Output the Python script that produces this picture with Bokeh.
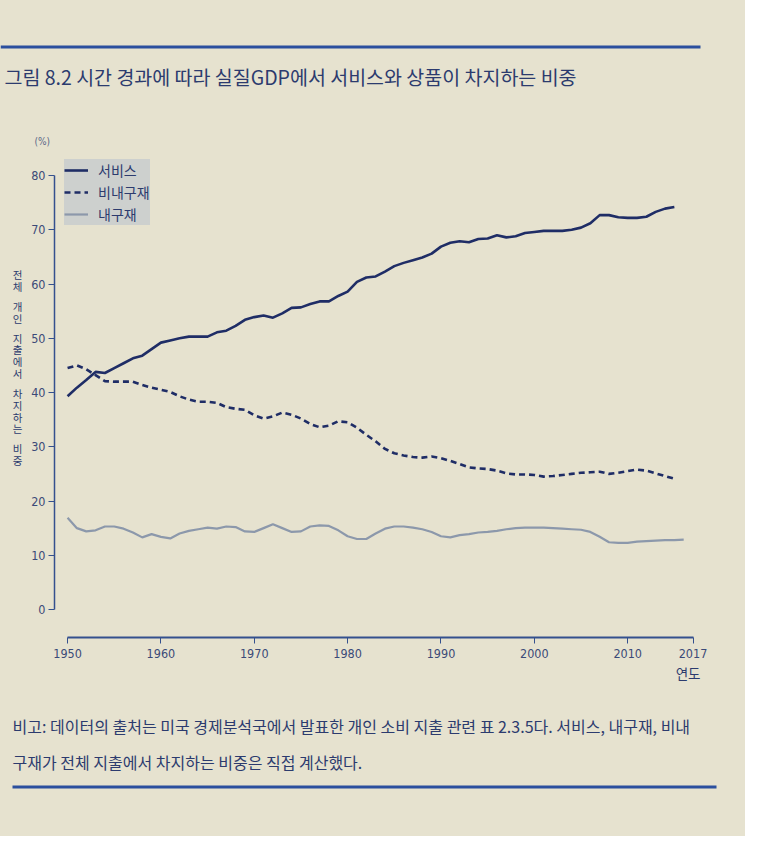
from bokeh.plotting import figure
from bokeh.layouts import column, row
from bokeh.models import FixedTicker, Label, BoxAnnotation, Legend, LegendItem, Title
from bokeh.embed import file_html
from bokeh.resources import INLINE

# 서비스 / 비내구재 / 내구재 비중 (%), 그림에서 읽은 값
years = list(range(1950, 2016))
services = [39.3, 40.9, 42.3, 43.8, 43.6, 44.5, 45.4, 46.3, 46.8, 48.0,
            49.2, 49.6, 50.0, 50.3, 50.3, 50.3, 51.1, 51.4, 52.3, 53.4,
            53.9, 54.2, 53.8, 54.6, 55.6, 55.7, 56.3, 56.8, 56.8, 57.8,
            58.6, 60.4, 61.2, 61.4, 62.3, 63.3, 63.9, 64.4, 64.9, 65.6,
            66.9, 67.6, 67.9, 67.7, 68.3, 68.4, 69.0, 68.6, 68.8, 69.4,
            69.6, 69.8, 69.8, 69.8, 70.0, 70.4, 71.2, 72.7, 72.7, 72.3,
            72.2, 72.2, 72.4, 73.3, 73.9, 74.2]
nondurables = [44.5, 45.0, 44.3, 43.2, 42.1, 42.0, 42.0, 42.0, 41.4, 40.9,
               40.5, 40.1, 39.3, 38.7, 38.3, 38.3, 38.1, 37.3, 37.0, 36.8,
               35.8, 35.2, 35.6, 36.3, 35.9, 35.2, 34.2, 33.6, 33.9, 34.7,
               34.5, 33.5, 32.2, 31.0, 29.6, 28.8, 28.4, 28.1, 28.0, 28.2,
               27.9, 27.4, 26.8, 26.2, 26.0, 25.9, 25.6, 25.1, 24.9, 24.9,
               24.8, 24.5, 24.6, 24.8, 25.0, 25.2, 25.3, 25.4, 25.0, 25.2,
               25.5, 25.8, 25.6, 25.1, 24.6, 24.1]
durables_years = list(range(1950, 2017))
durables = [16.9, 15.0, 14.4, 14.6, 15.3, 15.3, 14.9, 14.2, 13.3, 13.9,
            13.4, 13.1, 14.0, 14.5, 14.8, 15.1, 14.9, 15.3, 15.2, 14.4,
            14.3, 15.0, 15.7, 15.0, 14.3, 14.4, 15.3, 15.5, 15.4, 14.6,
            13.5, 13.0, 13.0, 14.0, 14.9, 15.3, 15.3, 15.1, 14.8, 14.3,
            13.5, 13.3, 13.7, 13.9, 14.2, 14.3, 14.5, 14.8, 15.0, 15.1,
            15.1, 15.1, 15.0, 14.9, 14.8, 14.7, 14.3, 13.4, 12.4, 12.3,
            12.3, 12.5, 12.6, 12.7, 12.8, 12.8, 12.9]

x_ticks = [1950, 1960, 1970, 1980, 1990, 2000, 2010, 2017]
y_ticks = [0, 10, 20, 30, 40, 50, 60, 70, 80]

title_text = "그림 8.2 시간 경과에 따라 실질GDP에서 서비스와 상품이 차지하는 비중"
ylab = "전체 개인 지출에서 차지하는 비중"
note1 = "비고: 데이터의 출처는 미국 경제분석국에서 발표한 개인 소비 지출 관련 표 2.3.5다. 서비스, 내구재, 비내"
note2 = "구재가 전체 지출에서 차지하는 비중은 직접 계산했다."

W = 745
BG = "#e6e2cf"
NAVY = "#1f2d66"
TXT = "#2c3b6e"
RULE = "#2b4f9e"
KR = "Noto Sans CJK KR"
NUM = "DejaVu Sans Condensed"


def blank(w, h):
    # 축 없이 텍스트만 올리는 판 (좌표는 왼쪽 위 기준 픽셀)
    f = figure(width=w, height=h, x_range=(0, w), y_range=(h, 0),
               min_border=0, output_backend="svg", toolbar_location=None)
    f.axis.visible = False
    f.grid.visible = False
    f.outline_line_color = None
    f.background_fill_color = BG
    f.border_fill_color = BG
    return f


def put(f, text, x, y, size, align="left", font=KR, color=TXT):
    f.add_layout(Label(x=x, y=y, text=text, text_font=font, text_font_size=size,
                       text_color=color, text_align=align, text_baseline="middle"))


def rule(f, x0, x1, y, w):
    f.add_layout(BoxAnnotation(left=x0, right=x1, top=y, bottom=y + w,
                               fill_color=RULE, fill_alpha=1, line_color=None))


# 위: 제목
head = blank(W, 149)
put(head, title_text, 4, 76, "19.5px")
rule(head, 0, 700, 45, 3)
put(head, "(%)", 34, 141, "10px", font=NUM, color="#5a6688")

# 본 그래프
MH = 538
p = figure(width=W - 26, height=MH, x_range=(1948.6, 2017.8), y_range=(-5.16, 84.8),
           min_border_left=28, min_border_right=45, min_border_top=0, min_border_bottom=50,
           output_backend="svg", toolbar_location=None)
p.background_fill_alpha = 0
p.border_fill_color = BG
p.outline_line_color = None
p.grid.visible = False

p.xaxis.ticker = FixedTicker(ticks=x_ticks)
p.yaxis.ticker = FixedTicker(ticks=y_ticks)
p.xaxis.bounds = (1950, 2017)
p.yaxis.bounds = (0, 80)
for ax in (p.xaxis, p.yaxis):
    ax.axis_line_color = "#34508e"
    ax.major_tick_line_color = "#34508e"
    ax.major_tick_in = 0
    ax.major_tick_out = 6
    ax.minor_tick_line_color = None
    ax.major_label_text_font = NUM
    ax.major_label_text_font_size = "12.5px"
    ax.major_label_text_color = "#3b4a78"
p.xaxis.axis_line_width = 2
p.yaxis.axis_line_width = 1.5
p.xaxis.major_label_standoff = 5
p.yaxis.major_label_standoff = 3

r1 = p.line(years, services, line_color=NAVY, line_width=2.6)
r2 = p.line(years, nondurables, line_color=NAVY, line_width=2.6, line_dash="6 4")
r3 = p.line(durables_years, durables, line_color="#8c98ab", line_width=2.2)

legend = Legend(items=[LegendItem(label="서비스", renderers=[r1]),
                       LegendItem(label="비내구재", renderers=[r2]),
                       LegendItem(label="내구재", renderers=[r3])],
                location="top_left", margin=10, padding=17, spacing=0,
                label_height=22, glyph_width=24, label_standoff=10,
                background_fill_color="#cdd0ce", background_fill_alpha=1,
                border_line_color=None, label_text_font=KR,
                label_text_font_size="14px", label_text_color=TXT)
p.add_layout(legend)

p.add_layout(Title(text="연도", align="right", text_font=KR, text_font_size="13.5px",
                   text_font_style="normal", text_color=TXT, standoff=0), "below")

# 왼쪽: 세로로 쌓은 축 제목
side = blank(26, MH)
yy = 138
for ch in ylab:
    if ch == " ":
        yy += 9
        continue
    put(side, ch, 17, yy, "10.5px", align="center")
    yy += 13

# 아래: 비고
foot = blank(W, 836 - 149 - MH)
put(foot, note1, 12, 38, "16px")
put(foot, note2, 12, 74, "16px")
rule(foot, 12, 716, 98, 3)

page = column(head, row(side, p, styles={"background-color": BG}), foot,
              styles={"background-color": BG})
open("out.html", "w").write(file_html(page, INLINE))
